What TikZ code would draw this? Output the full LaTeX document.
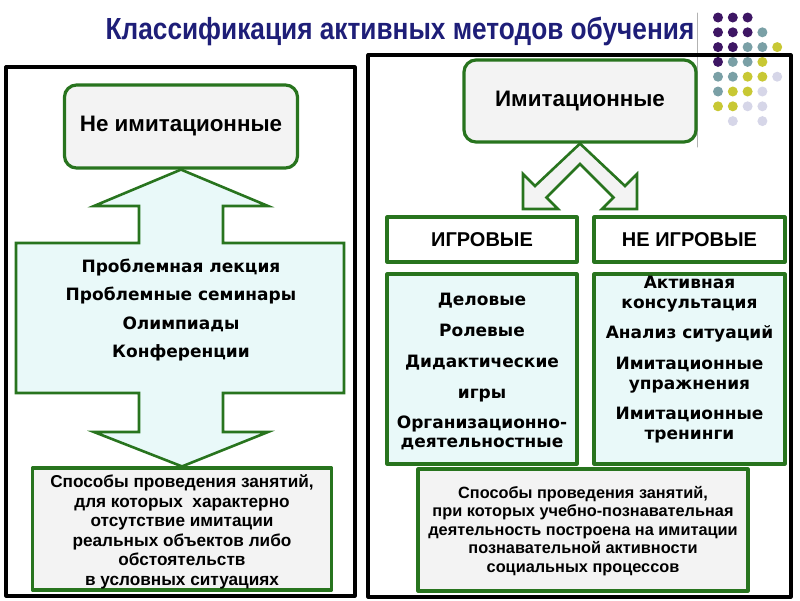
\documentclass[tikz,border=0pt]{standalone}
\usepackage{fontspec}
\setmainfont{Liberation Sans}
\newfontfamily\listfont{DejaVu Sans}
\newfontfamily\titlefont[FakeStretch=0.86]{Liberation Sans}
\usetikzlibrary{arrows.meta}

\definecolor{boxgreen}{RGB}{40,116,30}
\definecolor{titleblue}{RGB}{30,30,120}
\definecolor{paleCyan}{RGB}{233,249,249}
\definecolor{paleGray}{RGB}{243,243,243}
\definecolor{dotP}{RGB}{62,22,100}
\definecolor{dotT}{RGB}{122,160,166}
\definecolor{dotY}{RGB}{200,200,52}
\definecolor{dotL}{RGB}{214,214,232}

\begin{document}
\begin{tikzpicture}[x=1pt,y=-1pt,line cap=round,line join=round,
  frame/.style={draw=black,line width=3.2pt},
  headbox/.style={draw=boxgreen,line width=3.2pt,fill=paleGray,rounded corners=12pt,inner sep=0pt,font=\bfseries\fontsize{22.4}{26}\selectfont},
  catbox/.style={draw=boxgreen,line width=3.2pt,fill=white,inner sep=0pt,minimum height=45pt,font=\bfseries\fontsize{20}{24}\selectfont},
  listbox/.style={draw=boxgreen,line width=3.2pt,fill=paleCyan,inner sep=0pt,minimum height=190pt},
  notebox/.style={draw=boxgreen,line width=3.2pt,fill=paleGray,inner sep=0pt,minimum height=122pt},
  bigarrow/.style={draw=boxgreen,line width=2.6pt,line join=miter}]
\useasboundingbox (0,0) rectangle (800,600);
% title
\node[text=titleblue,font=\titlefont\bfseries\fontsize{30.5}{36}\selectfont] (title) at (400,31) {Классификация активных методов обучения};
\draw[gray!60,line width=1pt] (697,13) -- (697,147);
% dots
\foreach \i/\j/\c in {0/0/dotP,1/0/dotP,2/0/dotP,
  0/1/dotP,1/1/dotP,2/1/dotP,3/1/dotT,
  0/2/dotP,1/2/dotP,2/2/dotT,3/2/dotT,4/2/dotY,
  0/3/dotP,1/3/dotT,2/3/dotT,3/3/dotY,
  0/4/dotT,1/4/dotT,2/4/dotY,3/4/dotY,4/4/dotL,
  0/5/dotT,1/5/dotY,2/5/dotY,3/5/dotL,
  0/6/dotY,1/6/dotY,2/6/dotL,3/6/dotL,
  1/7/dotL,3/7/dotL}
  \fill[\c] (718+14.8*\i,17.5+14.8*\j) circle (5pt);
% frames
\draw[frame] (6,67) rectangle (355,596);
\draw[frame] (368,55) rectangle (791,597);
% left side
\node[headbox,minimum width=233pt,minimum height=83pt] (nonimit) at (181,126.5) {Не имитационные};
\node[notebox,minimum width=299pt] (leftnote) at (182,529) {};
\draw[bigarrow,fill=paleCyan] (nonimit.south) -- (268,206) -- (223,206) -- (223,243) -- (344,243) -- (344,393) -- (223,393) -- (223,432) -- (268,432) -- (leftnote.north) -- (94,432) -- (139,432) -- (139,393) -- (16,393) -- (16,243) -- (139,243) -- (139,206) -- (94,206) -- cycle;
\node[align=center,font=\listfont\bfseries\fontsize{17}{28.5}\selectfont] (nonimitlist) at (181,310) {Проблемная лекция\\Проблемные семинары\\Олимпиады\\Конференции};
\node[align=center,font=\bfseries\fontsize{17.2}{19.5}\selectfont] (leftnotetext) at (182,532) {Способы проведения занятий,\\для которых~ характерно\\отсутствие имитации\\реальных объектов либо\\обстоятельств\\в условных ситуациях};
% right side
\node[headbox,minimum width=232pt,minimum height=82pt] (imit) at (580,101) {Имитационные};
\draw[bigarrow,fill=paleGray] (imit.south) -- (625,186) -- (637,174) -- (637,209) -- (602,209) -- (613.5,197.5) -- (580,164) -- (546.5,197.5) -- (558,209) -- (523,209) -- (523,174) -- (535,186) -- cycle;
\node[catbox,minimum width=190pt] (games) at (482,239.5) {ИГРОВЫЕ};
\node[catbox,minimum width=191pt] (nongames) at (689.5,239.5) {НЕ ИГРОВЫЕ};
\node[listbox,minimum width=190pt] (gamelist) at (482,369) {};
\node[listbox,minimum width=191pt] (nongamelist) at (689.5,369) {};
\node[align=center,font=\listfont\bfseries\fontsize{17}{19}\selectfont] (gamelisttext) at (482,371) {Деловые\\[12pt]Ролевые\\[12pt]Дидактические\\[12pt]игры\\[11pt]Организационно-\\деятельностные};
\node[align=center,font=\listfont\bfseries\fontsize{17}{20}\selectfont] (nongamelisttext) at (689.5,360) {Активная\\консультация\\[10pt]Анализ ситуаций\\[11pt]Имитационные\\упражнения\\[10pt]Имитационные\\тренинги};
\node[notebox,minimum width=330pt] (rightnote) at (583,530) {};
\node[align=center,font=\bfseries\fontsize{16.3}{18.5}\selectfont] (rightnotetext) at (583,531) {Способы проведения занятий,\\при которых учебно-познавательная\\деятельность построена на имитации\\познавательной активности\\социальных процессов};
\end{tikzpicture}
\end{document}
